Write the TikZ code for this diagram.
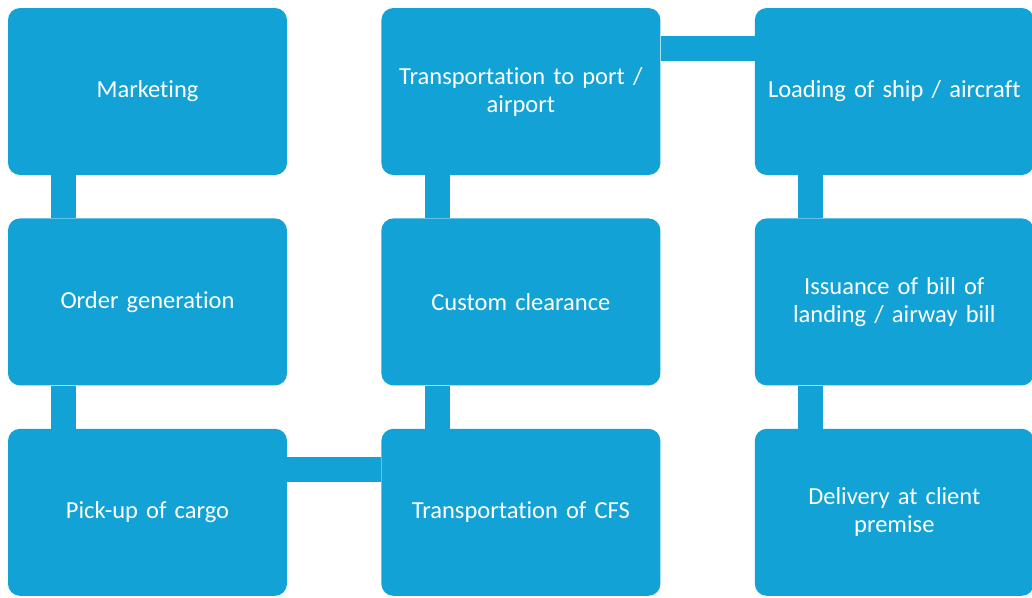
\documentclass[tikz,border=0pt]{standalone}
\usepackage{fontspec}
\setmainfont{Carlito}[Ligatures=CommonOff]
\usetikzlibrary{positioning}

\definecolor{stepblue}{RGB}{18,162,213}

\begin{document}
\begin{tikzpicture}[
  font=\fontsize{24.5}{28}\selectfont,
  n/.style={fill=stepblue,text=white,rounded corners=12pt,minimum width=279pt,minimum height=167pt,text width=275pt,align=center,inner sep=0pt},
  link/.style={draw=stepblue,line width=25pt},
  node distance=43pt and 94pt
]
\useasboundingbox (0,0) rectangle (1032pt,-597pt);
\node[n] (mk) at (147.5pt,-91.5pt) {Marketing};
\node[n,below=of mk] (og) {Order generation};
\node[n,below=of og] (pc) {Pick-up of cargo};
\node[n,right=of pc] (tc) {Transportation of CFS};
\node[n,above=of tc] (cc) {Custom clearance};
\node[n,above=of cc] (tp) {Transportation to port /\\airport};
\node[n,right=of tp] (ls) {Loading of ship / aircraft};
\node[n,below=of ls] (ib) {Issuance of bill of\\landing / airway bill};
\node[n,below=of ib] (dc) {Delivery at client\\premise};
% vertical bars
\draw[link] ([xshift=56pt]mk.south west) -- ([xshift=56pt]og.north west);
\draw[link] ([xshift=56pt]og.south west) -- ([xshift=56pt]pc.north west);
\draw[link] ([xshift=56pt]tc.north west) -- ([xshift=56pt]cc.south west);
\draw[link] ([xshift=56pt]cc.north west) -- ([xshift=56pt]tp.south west);
\draw[link] ([xshift=56pt]ls.south west) -- ([xshift=56pt]ib.north west);
\draw[link] ([xshift=56pt]ib.south west) -- ([xshift=56pt]dc.north west);
% horizontal bars
\draw[link] ([yshift=-41pt]pc.north east) -- ([yshift=-41pt]tc.north west);
\draw[link] ([yshift=-41pt]tp.north east) -- ([yshift=-41pt]ls.north west);
\end{tikzpicture}
\end{document}
